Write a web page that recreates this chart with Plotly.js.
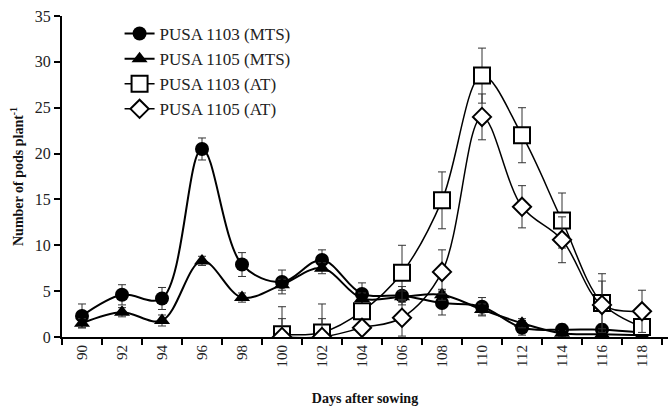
<!DOCTYPE html>
<html>
<head>
<meta charset="utf-8">
<script src="https://cdn.plot.ly/plotly-3.0.1.min.js"></script>
<style>html,body{margin:0;padding:0;background:#fff}#chart{width:670px;height:406px}</style>
</head>
<body>
<div id="chart"></div>
<script>
var days = ["90","92","94","96","98","100","102","104","106","108","110","112","114","116","118"];
var daysAT = ["100","102","104","106","108","110","112","114","116","118"];

var pusa1103MTS = [2.3, 4.6, 4.2, 20.5, 7.9, 6.0, 8.4, 4.7, 4.5, 3.7, 3.3, 1.0, 0.8, 0.8, 0.5];
var pusa1103MTSerr = [1.3, 1.1, 1.2, 1.2, 1.3, 1.3, 1.1, 1.2, 1.0, 1.3, 1.0, 0.8, 0.6, 0.6, 0.4];
var pusa1105MTS = [1.5, 2.7, 1.8, 8.3, 4.3, 5.7, 7.5, 4.2, 4.4, 4.6, 3.0, 1.5, 0.4, 0.3, 0.2];
var pusa1105MTSerr = [0.5, 0.5, 0.6, 0.5, 0.5, 0.6, 0.6, 0.6, 0.6, 0.6, 0.6, 0.5, 0.3, 0.3, 0.2];
var pusa1103AT = [0.3, 0.5, 2.8, 7.0, 14.9, 28.5, 22.0, 12.7, 3.7, 1.1];
var pusa1103ATerr = [3.0, 3.1, 0.5, 3.0, 3.1, 3.0, 3.0, 3.0, 3.2, 0.5];
var pusa1105AT = [0.0, 0.0, 1.0, 2.1, 7.1, 24.0, 14.2, 10.6, 3.5, 2.8];
var pusa1105ATerr = [2.0, 2.0, 0.5, 2.0, 2.4, 2.5, 2.3, 2.5, 2.6, 2.3];
var seriesNames = ["PUSA 1103 (MTS)", "PUSA 1105 (MTS)", "PUSA 1103 (AT)", "PUSA 1105 (AT)"];

var fontFam = "Liberation Serif, Times New Roman, serif";
function err(a){ return {type:'data', array:a, visible:true, color:'#333', thickness:1, width:4}; }

var traces = [
  {x: days, y: pusa1103MTS, name: seriesNames[0], type:'scatter', mode:'lines+markers',
   line:{color:'#000', width:2, shape:'spline', smoothing:1},
   marker:{symbol:'circle', size:14, color:'#000'}, error_y: err(pusa1103MTSerr)},
  {x: days, y: pusa1105MTS, name: seriesNames[1], type:'scatter', mode:'lines+markers',
   line:{color:'#000', width:2, shape:'spline', smoothing:1},
   marker:{symbol:'triangle-up', size:14, color:'#000'}, error_y: err(pusa1105MTSerr)},
  {x: daysAT, y: pusa1103AT, name: seriesNames[2], type:'scatter', mode:'lines+markers',
   line:{color:'#000', width:1.5, shape:'spline', smoothing:1, dash:'solid'},
   marker:{symbol:'square', size:16, color:'#fff', line:{color:'#000', width:2}}, error_y: err(pusa1103ATerr)},
  {x: daysAT, y: pusa1105AT, name: seriesNames[3], type:'scatter', mode:'lines+markers',
   line:{color:'#000', width:1.5, shape:'spline', smoothing:1, dash:'solid'},
   marker:{symbol:'diamond', size:14, color:'#fff', line:{color:'#000', width:2}}, error_y: err(pusa1105ATerr)}
];

var layout = {
  width:670, height:406,
  margin:{l:62, r:2, t:16, b:69},
  paper_bgcolor:'#fff', plot_bgcolor:'#fff',
  font:{family:fontFam, size:14, color:'#222'},
  showlegend:true,
  legend:{x:0.095, y:1.0, xanchor:'left', yanchor:'top', bgcolor:'rgba(0,0,0,0)',
          font:{family:fontFam, size:17, color:'#222'}, itemwidth:30, tracegroupgap:0},
  xaxis:{type:'category', categoryorder:'array', categoryarray:days,
         range:[-0.5, 14.65], showgrid:false, zeroline:false,
         showline:true, linecolor:'#000', linewidth:2,
         ticks:'outside', ticklen:6, tickwidth:2, tickcolor:'#000', tickson:'boundaries',
         tickangle:-90, tickfont:{family:fontFam, size:15, color:'#222'},
         title:{text:'<b>Days after sowing</b>', font:{family:fontFam, size:14, color:'#111'}, standoff:28}},
  yaxis:{range:[0,35], dtick:5, showgrid:false, zeroline:false,
         showline:true, linecolor:'#000', linewidth:2,
         ticks:'outside', ticklen:6, tickwidth:2, tickcolor:'#000',
         tickfont:{family:fontFam, size:16, color:'#222'},
         title:{text:'<b>Number of pods plant<sup>-1</sup></b>', font:{family:fontFam, size:14, color:'#111'}, standoff:8}}
};

Plotly.newPlot('chart', traces, layout, {displayModeBar:false, staticPlot:true});
</script>
</body>
</html>
